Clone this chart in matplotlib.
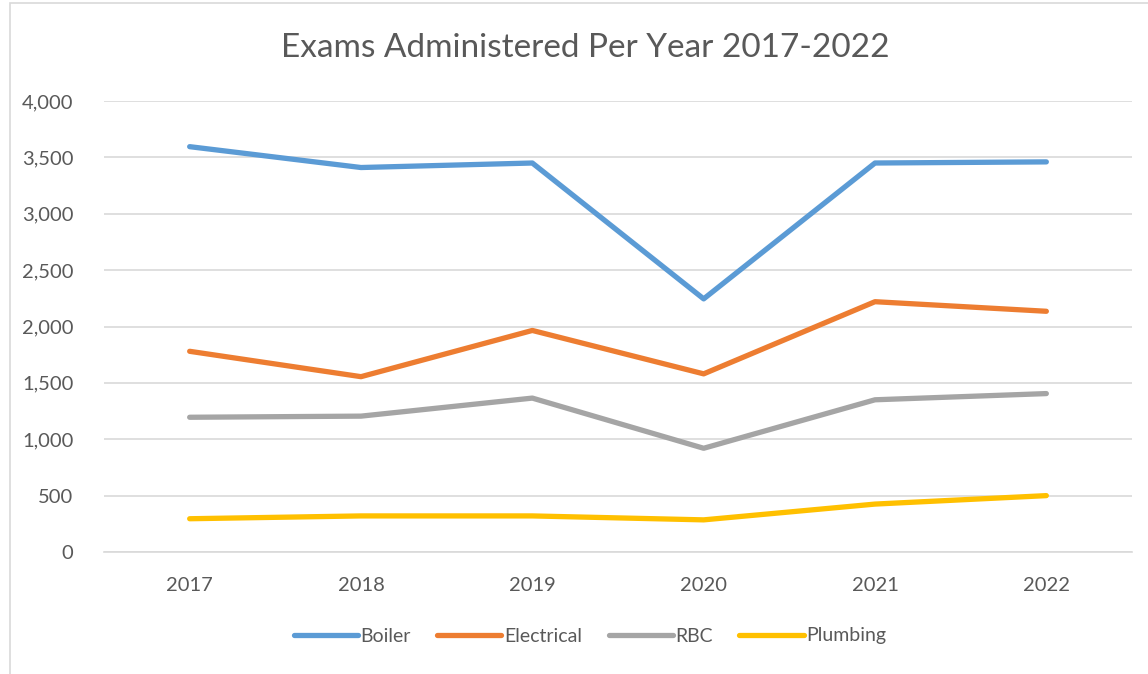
import matplotlib
matplotlib.use("Agg")
import matplotlib.pyplot as plt
from matplotlib.patches import Rectangle

years = ["2017", "2018", "2019", "2020", "2021", "2022"]
boiler = [3595, 3410, 3450, 2245, 3450, 3460]
electrical = [1780, 1555, 1965, 1580, 2220, 2135]
rbc = [1195, 1205, 1365, 920, 1350, 1405]
plumbing = [295, 320, 320, 285, 425, 500]

series = [
    ("Boiler", boiler, "#5B9BD5"),
    ("Electrical", electrical, "#ED7D31"),
    ("RBC", rbc, "#A5A5A5"),
    ("Plumbing", plumbing, "#FFC000"),
]

plt.rcParams['font.family'] = ['Lato', 'DejaVu Sans']
text_color = "#595959"

fig = plt.figure(figsize=(11.48, 6.74), dpi=100)
# chart border (cropped on right/bottom like the reference)
fig.patches.append(Rectangle((10 / 1148, -0.05), 1.2, 0.05 + 671 / 674,
                             transform=fig.transFigure, fill=False,
                             edgecolor="#D9D9D9", linewidth=1.2))

ax = fig.add_axes([104 / 1148, 122 / 674, 1028 / 1148, 451 / 674])
x = list(range(len(years)))
for name, vals, color in series:
    ax.plot(x, vals, color=color, linewidth=3.8, solid_capstyle="round",
            solid_joinstyle="round", label=name)

ax.set_xlim(-0.5, len(years) - 0.5)
ax.set_ylim(0, 4000)
ax.set_yticks(range(0, 4001, 500))
ax.set_yticklabels([f"{v:,}" for v in range(0, 4001, 500)])
ax.set_xticks(x)
ax.set_xticklabels(years)
ax.yaxis.grid(True, color="#D9D9D9", linewidth=1.2)
ax.set_axisbelow(True)
for s in ax.spines.values():
    s.set_visible(False)
ax.spines["bottom"].set_visible(True)
ax.spines["bottom"].set_color("#D9D9D9")
ax.spines["bottom"].set_linewidth(1.2)
ax.tick_params(axis="both", length=0, labelsize=14.5, colors=text_color)
ax.tick_params(axis="y", pad=22)
ax.tick_params(axis="x", pad=18)

fig.text(585 / 1148, 1 - 48 / 674, "Exams Administered Per Year 2017-2022",
         ha="center", va="center", fontsize=24, color=text_color)

leg = fig.legend(loc="center", bbox_to_anchor=(590 / 1148, 1 - 636 / 674),
                 ncol=4, frameon=False, fontsize=14, handlelength=3.3,
                 columnspacing=1.35, handletextpad=0.15)
for t in leg.get_texts():
    t.set_color(text_color)

fig.savefig("out.png", dpi=100)
